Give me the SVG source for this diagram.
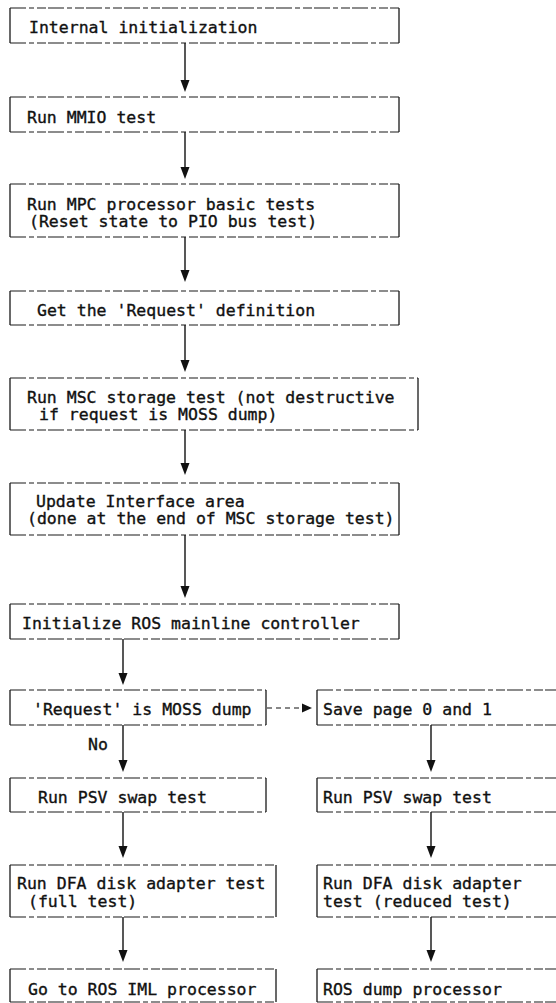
<svg xmlns="http://www.w3.org/2000/svg" width="556" height="1003" viewBox="0 0 556 1003">
<defs>
<style>
.bg{fill:#fff}
.d{fill:none;stroke:#1a1a1a;stroke-width:1.2;stroke-dasharray:16 3 5 3 9 2}
.s{fill:none;stroke:#1a1a1a;stroke-width:1.3}
.c{fill:none;stroke:#111;stroke-width:1.4}
.cd{fill:none;stroke:#111;stroke-width:1.2;stroke-dasharray:5 4}
.h{fill:#111}
text{font-family:"DejaVu Sans Mono","Liberation Mono",monospace;font-size:16.5px;fill:#111;stroke:#111;stroke-width:0.35}
</style>
</defs>
<rect class="bg" width="556" height="1003"/>

<g id="connectors">
<line class="c" x1="185" y1="43" x2="185" y2="81"/>
<path class="h" d="M180.5,80 L189.5,80 L185,92 Z"/>
<line class="c" x1="185" y1="132" x2="185" y2="168"/>
<path class="h" d="M180.5,167 L189.5,167 L185,179 Z"/>
<line class="c" x1="185" y1="237" x2="185" y2="271"/>
<path class="h" d="M180.5,270 L189.5,270 L185,282 Z"/>
<line class="c" x1="185" y1="325" x2="185" y2="361"/>
<path class="h" d="M180.5,360 L189.5,360 L185,372 Z"/>
<line class="c" x1="185" y1="430" x2="185" y2="464"/>
<path class="h" d="M180.5,463 L189.5,463 L185,475 Z"/>
<line class="c" x1="185" y1="535" x2="185" y2="587"/>
<path class="h" d="M180.5,586 L189.5,586 L185,598 Z"/>
<line class="c" x1="123" y1="639" x2="123" y2="674"/>
<path class="h" d="M118.5,673 L127.5,673 L123,685 Z"/>
<line class="cd" x1="267" y1="708" x2="302" y2="708"/>
<path class="h" d="M302,703.5 L302,712.5 L312,708 Z"/>
<line class="c" x1="123" y1="725" x2="123" y2="761"/>
<path class="h" d="M118.5,760 L127.5,760 L123,772 Z"/>
<line class="c" x1="431" y1="725" x2="431" y2="761"/>
<path class="h" d="M426.5,760 L435.5,760 L431,772 Z"/>
<line class="c" x1="123" y1="812" x2="123" y2="847"/>
<path class="h" d="M118.5,846 L127.5,846 L123,858 Z"/>
<line class="c" x1="431" y1="812" x2="431" y2="847"/>
<path class="h" d="M426.5,846 L435.5,846 L431,858 Z"/>
<line class="c" x1="123" y1="917" x2="123" y2="951"/>
<path class="h" d="M118.5,950 L127.5,950 L123,962 Z"/>
<line class="c" x1="431" y1="917" x2="431" y2="951"/>
<path class="h" d="M426.5,950 L435.5,950 L431,962 Z"/>
<text x="88" y="750">No</text>
</g>

<g id="n1">
<path class="d" d="M10,8 H399 M10,43 H399"/><path class="s" d="M10,8 V43 M399,8 V43"/>
<text x="29" y="33">Internal initialization</text>
</g>
<g id="n2">
<path class="d" d="M10,97 H399 M10,132 H399"/><path class="s" d="M10,97 V132 M399,97 V132"/>
<text x="27" y="123">Run MMIO test</text>
</g>
<g id="n3">
<path class="d" d="M10,184 H399 M10,237 H399"/><path class="s" d="M10,184 V237 M399,184 V237"/>
<text x="27" y="210">Run MPC processor basic tests</text>
<text x="29" y="227">(Reset state to PIO bus test)</text>
</g>
<g id="n4">
<path class="d" d="M10,291 H399 M10,325 H399"/><path class="s" d="M10,291 V325 M399,291 V325"/>
<text x="37" y="316">Get the 'Request' definition</text>
</g>
<g id="n5">
<path class="d" d="M10,378 H418 M10,430 H418"/><path class="s" d="M10,378 V430 M418,378 V430"/>
<text x="27" y="403">Run MSC storage test (not destructive</text>
<text x="39" y="420">if request is MOSS dump)</text>
</g>
<g id="n6">
<path class="d" d="M10,483 H399 M10,535 H399"/><path class="s" d="M10,483 V535 M399,483 V535"/>
<text x="36" y="507">Update Interface area</text>
<text x="27" y="524">(done at the end of MSC storage test)</text>
</g>
<g id="n7">
<path class="d" d="M10,604 H399 M10,639 H399"/><path class="s" d="M10,604 V639 M399,604 V639"/>
<text x="22" y="629">Initialize ROS mainline controller</text>
</g>
<g id="n8">
<path class="d" d="M10,690 H266 M10,725 H266"/><path class="s" d="M10,690 V725 M266,690 V725"/>
<text x="33" y="715">'Request' is MOSS dump</text>
</g>
<g id="n9">
<path class="d" d="M317,690 H556 M317,725 H556"/><path class="s" d="M317,690 V725"/>
<text x="323" y="715">Save page 0 and 1</text>
</g>
<g id="n10">
<path class="d" d="M10,778 H266 M10,812 H266"/><path class="s" d="M10,778 V812 M266,778 V812"/>
<text x="38" y="803">Run PSV swap test</text>
</g>
<g id="n11">
<path class="d" d="M317,778 H556 M317,812 H556"/><path class="s" d="M317,778 V812"/>
<text x="323" y="803">Run PSV swap test</text>
</g>
<g id="n12">
<path class="d" d="M10,865 H276 M10,917 H276"/><path class="s" d="M10,865 V917 M276,865 V917"/>
<text x="17" y="889">Run DFA disk adapter test</text>
<text x="28" y="907">(full test)</text>
</g>
<g id="n13">
<path class="d" d="M317,865 H556 M317,917 H556"/><path class="s" d="M317,865 V917"/>
<text x="323" y="889">Run DFA disk adapter</text>
<text x="323" y="907">test (reduced test)</text>
</g>
<g id="n14">
<path class="d" d="M10,969 H276 M10,1002 H276"/><path class="s" d="M10,969 V1002 M276,969 V1002"/>
<text x="28" y="995">Go to ROS IML processor</text>
</g>
<g id="n15">
<path class="d" d="M317,969 H556 M317,1002 H556"/><path class="s" d="M317,969 V1002"/>
<text x="323" y="995">ROS dump processor</text>
</g>
</svg>
